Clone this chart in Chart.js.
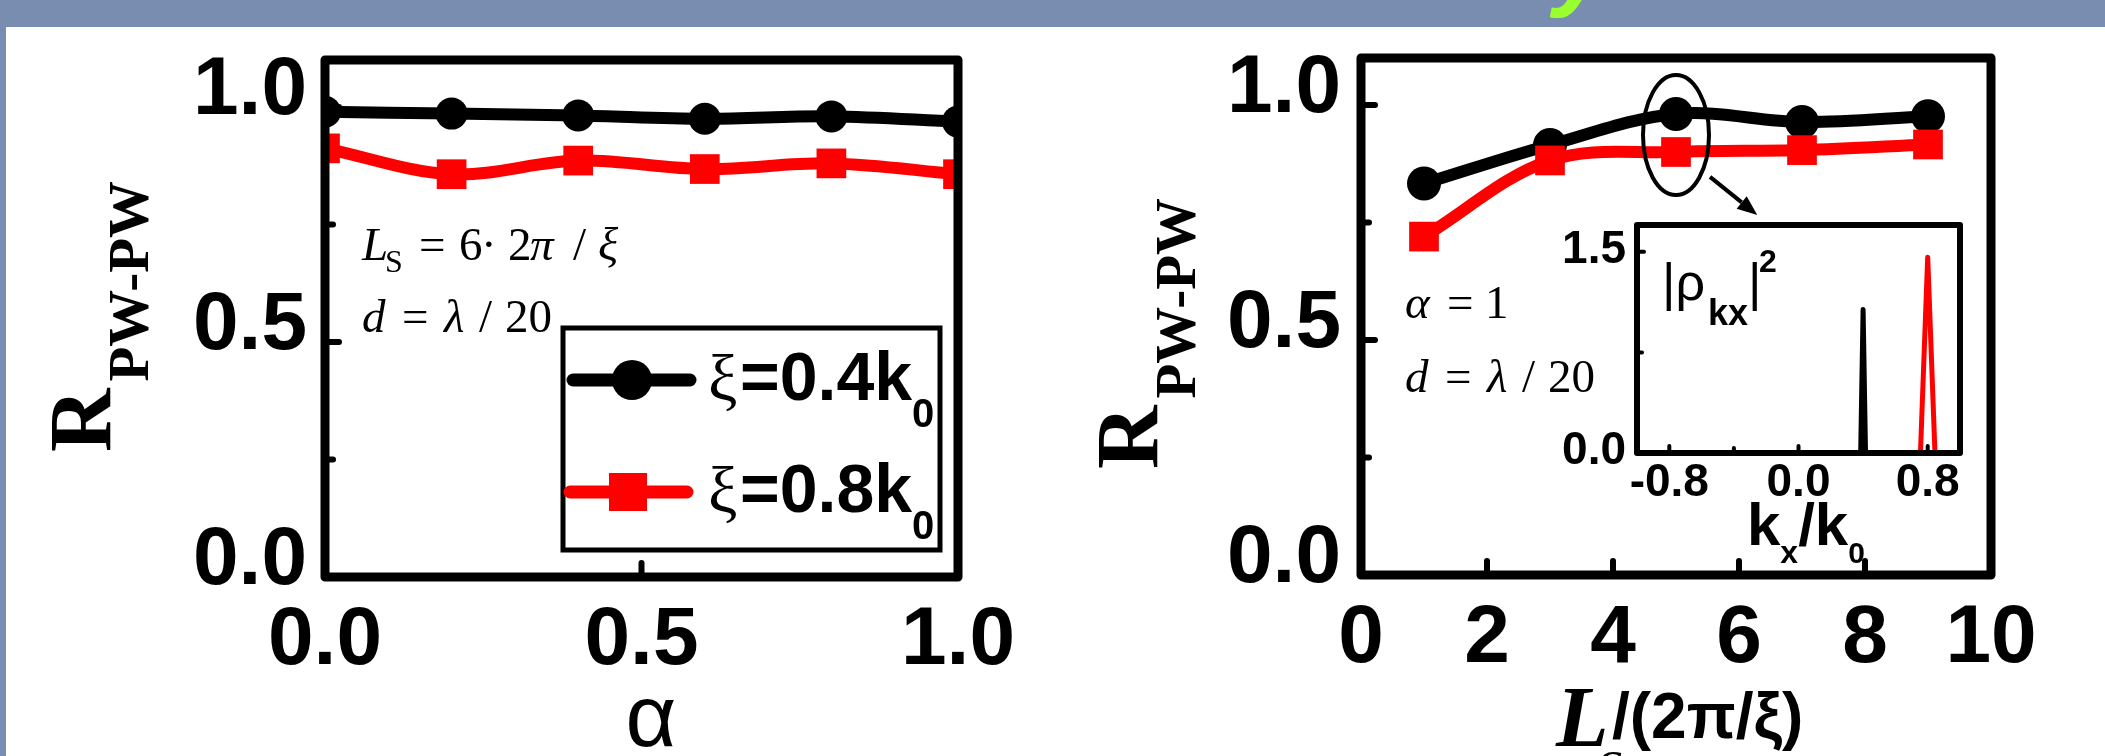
<!DOCTYPE html>
<html><head><meta charset="utf-8"><title>R PW-PW</title>
<script src="https://cdn.jsdelivr.net/npm/chart.js@4.4.1/dist/chart.umd.min.js"></script>
<style>
html,body{margin:0;padding:0;background:#fff;width:2105px;height:756px;overflow:hidden;position:relative}
#band{position:absolute;left:0;top:0;width:2105px;height:27px;background:rgb(121,141,176);overflow:hidden}
#strip{position:absolute;left:0;top:0;width:6px;height:756px;background:rgb(121,141,176)}
#gy{position:absolute;left:1554px;top:-88px;font:italic bold 100px "Liberation Sans";line-height:100px;color:#9aff2e}
canvas{position:absolute}
#c1{left:0;top:0}
#c2{left:1050px;top:0}
#c3{left:1530px;top:195px}
</style></head>
<body>
<div id="band"><span id="gy">y</span></div>
<div id="strip"></div>
<canvas id="c1" width="1050" height="756"></canvas>
<canvas id="c2" width="1055" height="756"></canvas>
<canvas id="c3" width="450" height="390"></canvas>
<script>
// ---------------- data ----------------
const alphaValues = [0, 0.2, 0.4, 0.6, 0.8, 1.0];
const leftXi04 = [0.990, 0.986, 0.982, 0.975, 0.980, 0.969];
const leftXi08 = [0.912, 0.857, 0.886, 0.868, 0.880, 0.857];
const lengthValues = [1, 3, 5, 7, 9];
const rightXi04 = [0.833, 0.915, 0.981, 0.964, 0.976];
const rightXi08 = [0.720, 0.882, 0.900, 0.904, 0.916];
const insetKx04 = [0.385, 0.4, 0.415];
const insetRho04 = [0, 1.07, 0];
const insetKx08 = [0.755, 0.8, 0.845];
const insetRho08 = [0, 1.46, 0];
const seriesXi = ['0.4', '0.8'];
const leftXTicks = [0, 0.5, 1.0];
const leftXTickLabels = ['0.0', '0.5', '1.0'];
const yTicks = [0, 0.5, 1.0];
const yTickLabels = ['0.0', '0.5', '1.0'];
const yMinorTicks = [0.25, 0.75];
const rightXTicks = [0, 2, 4, 6, 8, 10];
const rightXTickLabels = ['0', '2', '4', '6', '8', '10'];
const insetXTicks = [-0.8, 0, 0.8];
const insetXTickLabels = ['-0.8', '0.0', '0.8'];
const insetXMinorTicks = [-0.4, 0.4];
const insetYTicks = [0, 1.5];
const insetYTickLabels = ['0.0', '1.5'];
const insetYMinorTicks = [0.75];
const highlight = {x: 5, y: 0.936};
const arrowFrom = {x: 5.54, y: 0.847};
const arrowTo = {x: 6.29, y: 0.766};

// ---------------- helpers ----------------
const SERIF = '"Liberation Serif"', SANS = '"Liberation Sans"';
const BLACK = '#000000', RED = '#ff0000';

function drawRich(ctx, x0, y0, segs) {
  ctx.save();
  ctx.fillStyle = '#000'; ctx.textAlign = 'left'; ctx.textBaseline = 'alphabetic';
  let cx = x0;
  segs.forEach(s => {
    ctx.font = s.f;
    if (s.ax !== undefined) cx = x0 + s.ax;
    ctx.fillText(s.t, cx, y0 + (s.dy || 0));
    cx += ctx.measureText(s.t).width;
  });
  ctx.restore();
}
function yTitle(ctx, xb, ys) {
  ctx.save();
  ctx.translate(xb, ys); ctx.rotate(-Math.PI / 2);
  ctx.fillStyle = '#000'; ctx.textBaseline = 'alphabetic'; ctx.textAlign = 'left';
  ctx.font = 'bold 88px ' + SERIF; ctx.fillText('R', 0, 0);
  const w = ctx.measureText('R').width;
  ctx.font = 'bold 57px ' + SERIF; ctx.fillText('PW-PW', w + 7, 38);
  ctx.restore();
}
function marker(ctx, style, x, y, size) {
  ctx.beginPath();
  if (style === 'circle') { ctx.arc(x, y, size / 2, 0, Math.PI * 2); ctx.fill(); }
  else { ctx.fillRect(x - size / 2, y - size / 2, size, size); }
}
function scaleOpts(min, max, ticks, labels, o) {
  return {
    type: 'linear', min, max, bounds: 'data',
    afterBuildTicks: s => { s.ticks = ticks.map(v => ({value: v})); },
    afterFit: s => {
      if (o.h !== undefined) s.height = o.h; else s.width = o.w;
      s.paddingTop = 0; s.paddingBottom = 0; s.paddingLeft = 0; s.paddingRight = 0;
    },
    grid: {display: false, drawTicks: false, drawOnChartArea: false},
    border: {display: false},
    ticks: {autoSkip: false, maxRotation: 0, minRotation: 0, padding: o.pad, labelOffset: o.off || 0,
      font: {family: 'Liberation Sans', weight: 'bold', size: o.size}, color: '#000',
      callback: (v, i) => labels[i]}
  };
}
function series(xs, ys, color, style, radius, order, label, width, tension) {
  return {label, data: xs.map((x, i) => ({x, y: ys[i]})), borderColor: color, backgroundColor: color,
    borderWidth: width, pointStyle: style, pointRadius: radius, pointHoverRadius: radius,
    pointBorderWidth: 0, pointBackgroundColor: color, tension: tension, clip: 0, order,
    borderCapStyle: 'round', borderJoinStyle: 'round'};
}
const framePlugin = {
  id: 'frame',
  afterDatasetsDraw(chart, args, o) {
    const {ctx, chartArea: a} = chart;
    const x = chart.scales.x, y = chart.scales.y;
    ctx.save();
    ctx.strokeStyle = '#000'; ctx.lineCap = 'round';
    ctx.lineWidth = o.tickWidth;
    const tk = (vals, len, isX) => vals.forEach(v => {
      ctx.beginPath();
      if (isX) { const px = x.getPixelForValue(v); ctx.moveTo(px, a.bottom); ctx.lineTo(px, a.bottom - len); }
      else { const py = y.getPixelForValue(v); ctx.moveTo(a.left, py); ctx.lineTo(a.left + len, py); }
      ctx.stroke();
    });
    tk(o.xMajor, o.majorLen, true); tk(o.xMinor, o.minorLen, true);
    tk(o.yMajor, o.majorLen, false); tk(o.yMinor, o.minorLen, false);
    ctx.lineWidth = o.lineWidth; ctx.lineJoin = 'round';
    ctx.strokeRect(a.left, a.top, a.right - a.left, a.bottom - a.top);
    ctx.restore();
  }
};
const baseOpts = (padding, scales, frame, extra) => ({
  responsive: false, animation: false, events: [],
  layout: {padding},
  scales,
  plugins: Object.assign({legend: {display: false}, tooltip: {enabled: false}, frame}, extra || {})
});
const ANN_IT = 'italic 47px ' + SERIF, ANN_UP = '47px ' + SERIF;
function dLine(ctx, x0, y0) {
  drawRich(ctx, x0, y0, [
    {t: 'd', f: ANN_IT, ax: 0}, {t: '=', f: ANN_UP, ax: 40}, {t: 'λ', f: ANN_IT, ax: 82},
    {t: '/', f: ANN_UP, ax: 117}, {t: '20', f: ANN_UP, ax: 143}]);
}

// ---------------- left panel ----------------
const leftTexts = {
  id: 'leftTexts',
  afterDraw(chart) {
    const ctx = chart.ctx;
    yTitle(ctx, 110, 452);
    ctx.save(); ctx.fillStyle = '#000'; ctx.font = '88px ' + SANS; ctx.textAlign = 'center';
    ctx.textBaseline = 'alphabetic'; ctx.fillText('α', 651, 746); ctx.restore();
    drawRich(ctx, 362, 260, [
      {t: 'L', f: ANN_IT, ax: 0}, {t: 'S', f: '32px ' + SERIF, ax: 23, dy: 12},
      {t: '=', f: ANN_UP, ax: 57}, {t: '6', f: ANN_UP, ax: 97}, {t: '·', f: ANN_UP, ax: 119},
      {t: '2', f: ANN_UP, ax: 146}, {t: 'π', f: ANN_IT, ax: 168}, {t: '/', f: ANN_UP, ax: 211}, {t: 'ξ', f: ANN_IT, ax: 236}]);
    dLine(ctx, 362, 332);
    // legend
    ctx.save();
    ctx.lineWidth = 5; ctx.strokeStyle = '#000';
    ctx.strokeRect(563, 328, 377, 222);
    const rows = [{y: 380, x1: 573, x2: 690, px: 632, size: 40}, {y: 492, x1: 570, x2: 687, px: 628, size: 38}];
    rows.forEach((r, i) => {
      const ds = chart.data.datasets[i];
      ctx.strokeStyle = ds.borderColor; ctx.lineWidth = 13; ctx.lineCap = 'round';
      ctx.beginPath(); ctx.moveTo(r.x1, r.y); ctx.lineTo(r.x2, r.y); ctx.stroke();
      ctx.fillStyle = ds.backgroundColor;
      marker(ctx, ds.pointStyle, r.px, r.y, r.size);
      drawRich(ctx, 708, r.y + 20, [
        {t: 'ξ', f: '66px ' + SERIF, ax: 0},
        {t: '=' + seriesXi[i] + 'k', f: 'bold 68px ' + SANS, ax: 32},
        {t: '0', f: 'bold 40px ' + SANS, dy: 27}]);
    });
    ctx.restore();
  }
};
new Chart(document.getElementById('c1'), {
  type: 'line',
  data: {datasets: [
    series(alphaValues, leftXi04, BLACK, 'circle', 16, 1, 'ξ=0.4k0', 12, 0.35),
    series(alphaValues, leftXi08, RED, 'rect', 21, 0, 'ξ=0.8k0', 12, 0.35)
  ]},
  options: baseOpts({left: 0, top: 60, right: 92, bottom: 0}, {
    x: scaleOpts(0, 1, leftXTicks, leftXTickLabels, {h: 179, pad: 15, size: 82}),
    y: scaleOpts(0, 1.1, yTicks, yTickLabels, {w: 325, pad: 18, size: 82, off: -16})
  }, {xMajor: leftXTicks, xMinor: [], yMajor: yTicks, yMinor: yMinorTicks, majorLen: 14, minorLen: 8, tickWidth: 6, lineWidth: 9}),
  plugins: [framePlugin, leftTexts]
});

// ---------------- right panel ----------------
const rightTexts = {
  id: 'rightTexts',
  afterDraw(chart) {
    const ctx = chart.ctx;
    const x = chart.scales.x, y = chart.scales.y;
    yTitle(ctx, 107, 469);
    drawRich(ctx, 506, 746, [{t: 'L', f: 'bold italic 86px ' + SERIF, ax: 0}]);
    drawRich(ctx, 547, 785, [{t: 'S', f: 'italic 50px ' + SERIF, ax: 0}]);
    drawRich(ctx, 562, 738, [{t: '/(2π/ξ)', f: 'bold 64px ' + SANS, ax: 0}]);
    drawRich(ctx, 355, 318, [{t: 'α', f: ANN_IT, ax: 0}, {t: '=', f: ANN_UP, ax: 42}, {t: '1', f: ANN_UP, ax: 80}]);
    dLine(ctx, 355, 392);
    // highlight ellipse + arrow
    ctx.save();
    ctx.strokeStyle = '#000'; ctx.lineWidth = 4;
    ctx.beginPath();
    ctx.ellipse(x.getPixelForValue(highlight.x), y.getPixelForValue(highlight.y), 33, 60, 0, 0, Math.PI * 2);
    ctx.stroke();
    const x1 = x.getPixelForValue(arrowFrom.x), y1 = y.getPixelForValue(arrowFrom.y);
    const x2 = x.getPixelForValue(arrowTo.x), y2 = y.getPixelForValue(arrowTo.y);
    const ang = Math.atan2(y2 - y1, x2 - x1);
    const hl = 20, hw = 8;
    const bx = x2 - hl * Math.cos(ang), by = y2 - hl * Math.sin(ang);
    ctx.beginPath(); ctx.moveTo(x1, y1); ctx.lineTo(bx, by); ctx.stroke();
    ctx.fillStyle = '#000';
    ctx.beginPath(); ctx.moveTo(x2, y2);
    ctx.lineTo(bx + hw * Math.sin(ang), by - hw * Math.cos(ang));
    ctx.lineTo(bx - hw * Math.sin(ang), by + hw * Math.cos(ang));
    ctx.closePath(); ctx.fill();
    ctx.restore();
  }
};
new Chart(document.getElementById('c2'), {
  type: 'line',
  data: {datasets: [
    series(lengthValues, rightXi04, BLACK, 'circle', 17, 1, 'ξ=0.4k0', 12, 0.35),
    series(lengthValues, rightXi08, RED, 'rect', 21, 0, 'ξ=0.8k0', 12, 0.35)
  ]},
  options: baseOpts({left: 0, top: 58, right: 114, bottom: 0}, {
    x: scaleOpts(0, 10, rightXTicks, rightXTickLabels, {h: 181, pad: 15, size: 82}),
    y: scaleOpts(0, 1.1, yTicks, yTickLabels, {w: 311, pad: 20, size: 82, off: -16})
  }, {xMajor: rightXTicks, xMinor: [], yMajor: yTicks, yMinor: yMinorTicks, majorLen: 14, minorLen: 8, tickWidth: 6, lineWidth: 9}),
  plugins: [framePlugin, rightTexts]
});

// ---------------- inset ----------------
const insetTexts = {
  id: 'insetTexts',
  afterDraw(chart) {
    const ctx = chart.ctx;
    drawRich(ctx, 132, 105, [{t: '|ρ', f: '52px ' + SANS, ax: 0}]);
    drawRich(ctx, 178, 130, [{t: 'kx', f: 'bold 36px ' + SANS, ax: 0}]);
    drawRich(ctx, 218, 105, [{t: '|', f: '52px ' + SANS, ax: 0}]);
    drawRich(ctx, 229, 77, [{t: '2', f: 'bold 32px ' + SANS, ax: 0}]);
    drawRich(ctx, 217, 350, [
      {t: 'k', f: 'bold 60px ' + SANS, ax: 0}, {t: 'x', f: 'bold 32px ' + SANS, dy: 18},
      {t: '/', f: 'bold 60px ' + SANS}, {t: 'k', f: 'bold 60px ' + SANS},
      {t: '0', f: 'bold 30px ' + SANS, dy: 18}]);
  }
};
new Chart(document.getElementById('c3'), {
  type: 'line',
  data: {datasets: [
    series(insetKx04, insetRho04, BLACK, 'circle', 0, 1, 'ξ=0.4k0', 5, 0),
    series(insetKx08, insetRho08, RED, 'circle', 0, 0, 'ξ=0.8k0', 5, 0)
  ]},
  options: baseOpts({left: 0, top: 30, right: 20, bottom: 0}, {
    x: scaleOpts(-1, 1, insetXTicks, insetXTickLabels, {h: 132, pad: 3, size: 46}),
    y: scaleOpts(0, 1.7, insetYTicks, insetYTickLabels, {w: 107, pad: 11, size: 46, off: -2})
  }, {xMajor: insetXTicks, xMinor: insetXMinorTicks, yMajor: insetYTicks, yMinor: insetYMinorTicks, majorLen: 7, minorLen: 5, tickWidth: 4, lineWidth: 6}),
  plugins: [framePlugin, insetTexts]
});
</script>
</body></html>
